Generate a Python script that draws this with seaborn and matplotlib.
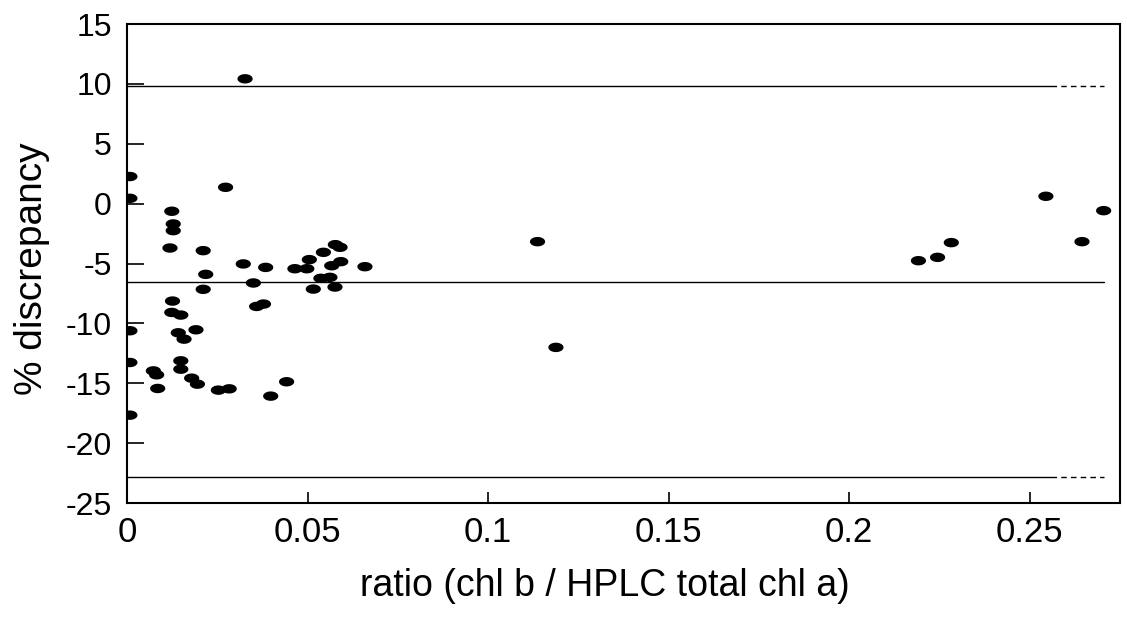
import numpy as np
import pandas as pd
import seaborn as sns
import matplotlib.pyplot as plt
from matplotlib.path import Path

ratio = [0.0008, 0.0008, 0.0273, 0.0124, 0.0128, 0.0128, 0.0119, 0.0211, 0.0322, 0.0218,
         0.0384, 0.0211, 0.0350, 0.0465, 0.0498, 0.0505, 0.0544, 0.0577, 0.0590, 0.0567,
         0.0592, 0.0659, 0.0537, 0.0562, 0.0516, 0.0576, 0.0359, 0.0378, 0.0126, 0.0124,
         0.0149, 0.0008, 0.0142, 0.0191, 0.0158, 0.0008, 0.0149, 0.0149, 0.0073, 0.0082,
         0.0179, 0.0195, 0.0085, 0.0253, 0.0283, 0.0442, 0.0398, 0.0008, 0.0327,
         0.1137, 0.1188, 0.2192, 0.2245, 0.2283, 0.2545, 0.2645, 0.2705]
discrepancy = [2.27, 0.45, 1.37, -0.63, -1.69, -2.25, -3.70, -3.92, -5.03, -5.90,
               -5.32, -7.15, -6.62, -5.43, -5.43, -4.67, -4.06, -3.42, -3.64, -5.18,
               -4.84, -5.26, -6.23, -6.15, -7.13, -6.96, -8.58, -8.38, -8.13, -9.08,
               -9.30, -10.61, -10.78, -10.53, -11.31, -13.26, -13.12, -13.82, -13.96, -14.29,
               -14.57, -15.07, -15.43, -15.57, -15.46, -14.87, -16.07, -17.66, 10.43,
               -3.17, -12.00, -4.76, -4.48, -3.25, 0.62, -3.17, -0.58]

mean_diff = -6.5
upper_limit = 9.85
lower_limit = -22.85
line_end = 0.2705
dash_start = 0.256

df = pd.DataFrame({"ratio": ratio, "discrepancy": discrepancy})

sns.set_style("white")
plt.rcParams["font.family"] = ["Liberation Sans", "DejaVu Sans"]
plt.rcParams["axes.unicode_minus"] = False

fig = plt.figure(figsize=(11.27, 6.18), dpi=100)
ax = fig.add_axes([0.1127, 0.186, 0.881, 0.775])

# flattened dots like the scanned figure
t = np.linspace(0, 2 * np.pi, 40)
ellipse = Path(np.column_stack([np.cos(t), 0.62 * np.sin(t)]))

sns.scatterplot(data=df, x="ratio", y="discrepancy", marker=ellipse, s=120,
                color="black", edgecolor="none", ax=ax, zorder=3)

for yv in [upper_limit, lower_limit]:
    ax.plot([0, dash_start], [yv, yv], color="black", lw=1.0)
    ax.plot([dash_start, line_end], [yv, yv], color="black", lw=1.0, ls=(0, (4, 3)))
ax.plot([0, line_end], [mean_diff, mean_diff], color="black", lw=1.0)

ax.set_xlim(0, 0.275)
ax.set_ylim(-25, 15)
ax.set_xticks([0, 0.05, 0.1, 0.15, 0.2, 0.25])
ax.set_xticklabels(["0", "0.05", "0.1", "0.15", "0.2", "0.25"])
ax.set_yticks(range(-25, 16, 5))
ax.tick_params(axis="both", direction="in", colors="black")
ax.tick_params(axis="y", left=True, length=12, width=1.2, pad=11, labelsize=23)
ax.tick_params(axis="x", bottom=True, length=8, width=1.2, pad=9, labelsize=25)
for sp in ax.spines.values():
    sp.set_color("black")
    sp.set_linewidth(1.5)

ax.set_xlabel("ratio (chl b / HPLC total chl a)", fontsize=27, color="black")
ax.set_ylabel("% discrepancy", fontsize=28, color="black")
ax.xaxis.set_label_coords(0.481, -0.135)
ax.yaxis.set_label_coords(-0.078, 0.49)

fig.savefig("out.png", dpi=100)
